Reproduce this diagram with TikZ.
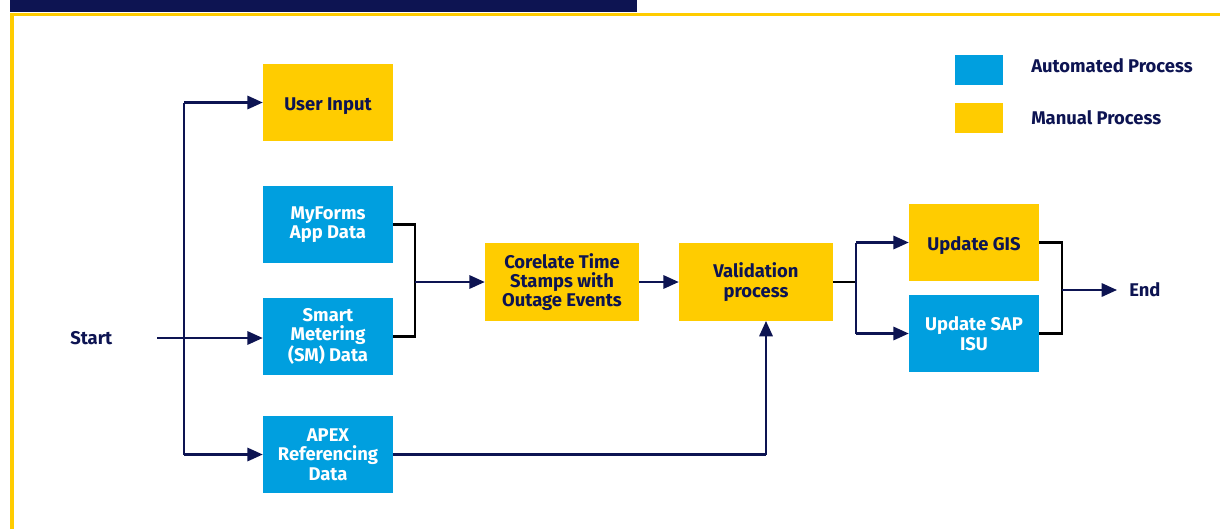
\documentclass[tikz,border=0pt]{standalone}
\usepackage{fontspec}
\setmainfont{Fira Sans}
\usetikzlibrary{arrows.meta,calc}
\definecolor{navy}{HTML}{0D1452}
\definecolor{btblue}{HTML}{009FDF}
\definecolor{btyellow}{HTML}{FFCC00}
\begin{document}
\begin{tikzpicture}[x=0.75pt,y=-0.75pt,
  box/.style={rectangle,inner sep=0pt,minimum width=97.5pt,minimum height=58pt,align=center,
    font=\fontsize{13.8}{14.5}\selectfont\bfseries,
    execute at begin node={\rule{0pt}{14.5pt}}},
  manual/.style={box,fill=btyellow,text=navy},
  auto/.style={box,fill=btblue,text=white},
  conn/.style={draw=navy,line width=1.6pt},
  blk/.style={draw=black,line width=1.6pt},
  arr/.style={conn,-{Triangle[length=11.5pt,width=10pt]}},
  lbl/.style={text=navy,font=\fontsize{13.8}{14.5}\selectfont\bfseries,inner sep=0pt}]
\useasboundingbox (0,0) rectangle (1220,529);
% header
\fill[navy] (10,0) rectangle (637,12);
\draw[btyellow,line width=2.4pt] (12,529) -- (12,14.5) -- (1220,14.5);
% nodes
\node[manual] (ui) at (328,102.5) {User Input};
\node[auto] (mf) at (328,224.5) {MyForms\\App Data};
\node[auto] (sm) at (328,336.5) {Smart\\Metering\\(SM) Data};
\node[auto] (apex) at (328,454.5) {APEX\\Referencing\\Data};
\node[manual,minimum width=115.5pt] (cor) at (562,282) {Corelate Time\\Stamps with\\Outage Events};
\node[manual,minimum width=115.5pt] (val) at (756,282) {Validation\\process};
\node[manual] (gis) at (974,242.5) {Update GIS};
\node[auto] (sap) at (974,333.5) {Update SAP\\ISU};
\node[lbl,anchor=west] (start) at (70,338) {Start};
\node[lbl,anchor=west] (end) at (1129,290) {End};
% legend
\node[rectangle,fill=btblue,minimum width=36pt,minimum height=22.5pt,inner sep=0pt] (la) at (979,70) {};
\node[rectangle,fill=btyellow,minimum width=36pt,minimum height=22.5pt,inner sep=0pt] (lm) at (979,118) {};
\node[lbl,anchor=west] (lat) at (1031,66) {Automated Process};
\node[lbl,anchor=west] (lmt) at (1031,118) {Manual Process};
% coordinates
\coordinate (s0) at (157,338);
\coordinate (vx) at (184,0);
\coordinate (j1) at (415,282);
\coordinate (j2) at (856,282);
\coordinate (j3) at (1062,290);
\coordinate (e0) at (1117,290);
\coordinate (ap) at (766,454.5);
% connectors
\draw[arr] (s0) -- (sm.west |- s0);
\draw[conn] (vx |- ui.west) -- (vx |- apex.west);
\draw[arr] (vx |- ui.west) -- (ui.west);
\draw[arr] (vx |- apex.west) -- (apex.west);
\draw[blk] (mf.east) -- (j1 |- mf.east) -- (j1 |- sm.east) -- (sm.east);
\draw[arr] (j1) -- (cor.west);
\draw[arr] (cor.east) -- (val.west);
\draw[conn] (apex.east) -- (ap);
\draw[arr] (ap) -- (ap |- val.south);
\draw[blk] (val.east) -- (j2);
\draw[conn] (j2 |- gis.west) -- (j2 |- sap.west);
\draw[arr] (j2 |- gis.west) -- (gis.west);
\draw[arr] (j2 |- sap.west) -- (sap.west);
\draw[blk] (gis.east) -- (j3 |- gis.east) -- (j3 |- sap.east) -- (sap.east);
\draw[arr] (j3) -- (e0);
\end{tikzpicture}
\end{document}
